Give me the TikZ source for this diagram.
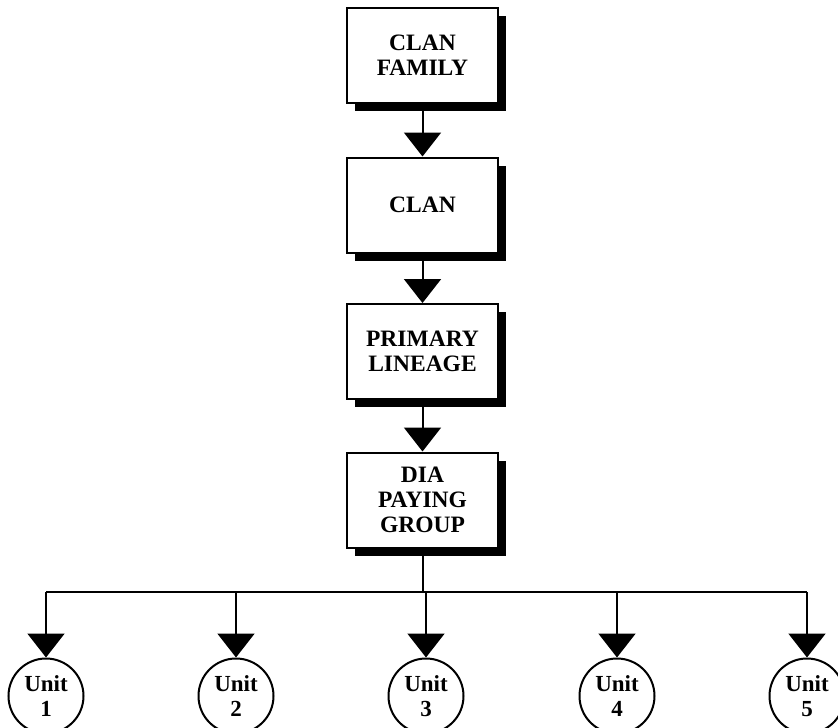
\documentclass[tikz,border=0pt]{standalone}
\usepackage{fontspec}
\setmainfont{Liberation Serif}
\usetikzlibrary{arrows.meta,positioning,shadows}

\tikzset{
    levelbox/.style={draw, line width=2pt, fill=white, minimum width=151pt, minimum height=95pt,
        align=center, font=\bfseries\fontsize{23.5}{25}\selectfont,
        drop shadow={shadow xshift=8pt, shadow yshift=-8pt, fill=black, opacity=1}},
    unitnode/.style={draw, circle, line width=2pt, minimum size=75pt, inner sep=0pt,
        align=center, font=\bfseries\fontsize{23}{25}\selectfont},
    downarrow/.style={line width=2pt, -{Triangle[width=37pt,length=24pt]}}
}

\begin{document}
\begin{tikzpicture}[x=1pt,y=-1pt]
\useasboundingbox (0,0) rectangle (838,728);

\pgfmathsetmacro\boxx{422.5}
\pgfmathsetmacro\busy{592}

\node[levelbox] (clanfamily) at (\boxx,55) {CLAN\\FAMILY};
\node[levelbox] (clan) at (\boxx,205) {CLAN};
\node[levelbox] (lineage) at (\boxx,351.5) {PRIMARY\\LINEAGE};
\node[levelbox] (diagroup) at (\boxx,500) {DIA\\PAYING\\GROUP};

\draw[downarrow] (clanfamily) -- (clan);
\draw[downarrow] (clan) -- (lineage);
\draw[downarrow] (lineage) -- (diagroup);

\foreach \n/\ux in {1/46, 2/236, 3/426, 4/617, 5/807}
    \node[unitnode] (unit\n) at (\ux,696) {Unit\\\n};

\coordinate (busleft) at (46,\busy);
\coordinate (busright) at (807,\busy);
\draw[line width=2pt] (busleft) -- (busright);
\draw[line width=2pt] (diagroup.south) -- (diagroup.south |- busleft);

\foreach \n in {1,...,5}
    \draw[downarrow] (unit\n |- busleft) -- (unit\n.north);

\end{tikzpicture}
\end{document}
